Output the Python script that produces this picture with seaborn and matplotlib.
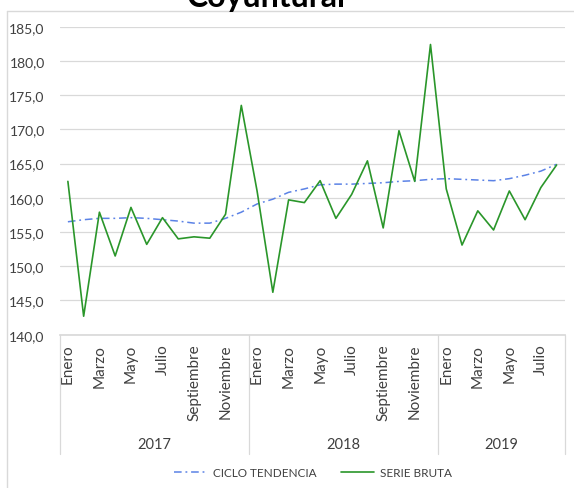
import matplotlib
matplotlib.use("Agg")
import matplotlib.pyplot as plt
import matplotlib.transforms as mtransforms
from matplotlib.ticker import FuncFormatter
import pandas as pd
import seaborn as sns

# --- data ---
months = ["Enero", "Febrero", "Marzo", "Abril", "Mayo", "Junio", "Julio", "Agosto",
          "Septiembre", "Octubre", "Noviembre", "Diciembre"]
years = ["2017", "2018", "2019"]
months_per_year = [12, 12, 8]

serie_bruta = [162.4, 142.7, 157.9, 151.5, 158.6, 153.2, 157.1, 154.0, 154.3, 154.1, 157.6, 173.5,
               161.0, 146.2, 159.7, 159.3, 162.5, 157.0, 160.5, 165.4, 155.6, 169.8, 162.4, 182.4,
               161.3, 153.1, 158.1, 155.3, 161.0, 156.8, 161.5, 164.8]
ciclo_tendencia = [156.5, 156.8, 157.0, 157.0, 157.1, 157.0, 156.8, 156.6, 156.3, 156.3, 157.0, 157.9,
                   159.1, 159.8, 160.8, 161.3, 161.9, 162.0, 162.0, 162.1, 162.2, 162.4, 162.5, 162.7,
                   162.8, 162.7, 162.6, 162.5, 162.8, 163.3, 163.9, 164.9]

labels = []
for y, n in zip(years, months_per_year):
    labels += [(y, m) for m in months[:n]]

df = pd.DataFrame({
    "pos": range(len(labels)),
    "year": [l[0] for l in labels],
    "month": [l[1] for l in labels],
    "ciclo": ciclo_tendencia,
    "bruta": serie_bruta,
})

sns.set_theme(style="white")
plt.rcParams["font.family"] = ["Lato", "DejaVu Sans"]

TEXT = "#404040"
GRID = "#D9D9D9"

W, H = 574, 489
fig = plt.figure(figsize=(W / 100, H / 100), dpi=100)
left, right, top, bottom = 60, 564.5, 27.7, 335.7
ax = fig.add_axes([left / W, 1 - bottom / H, (right - left) / W, (bottom - top) / H])

sns.lineplot(data=df, x="pos", y="ciclo", ax=ax, color="#5B82E6", linewidth=1.1,
             label="CICLO TENDENCIA")
ax.lines[-1].set_dashes((5, 2.5, 1.2, 2.5))
sns.lineplot(data=df, x="pos", y="bruta", ax=ax, color="#2A962A", linewidth=1.2,
             label="SERIE BRUTA")

ax.set_xlim(-0.5, len(labels) - 0.5)
ax.set_ylim(140, 185)
ax.set_yticks(range(140, 186, 5))
ax.yaxis.set_major_formatter(FuncFormatter(lambda v, p: f"{v:.1f}".replace(".", ",")))
ax.grid(axis="y", color=GRID, linewidth=0.9)
ax.set_axisbelow(True)
for side in ["left", "right", "top"]:
    ax.spines[side].set_visible(False)
ax.spines["bottom"].set_color(GRID)
ax.set_xlabel("")
ax.set_ylabel("")

ax.set_xticks(df["pos"][::2])
ax.set_xticklabels(df["month"][::2], rotation=90, va="top", ha="center")
ax.tick_params(axis="x", length=0, pad=6.5, labelsize=11, labelcolor=TEXT)
ax.tick_params(axis="y", length=0, pad=11, labelsize=10, labelcolor=TEXT)

# year groups under the month labels
trans = mtransforms.blended_transform_factory(ax.transData, ax.transAxes)
edges = [-0.5]
for n in months_per_year:
    edges.append(edges[-1] + n)
for e in edges:
    ax.plot([e, e], [0, -0.387], transform=trans, color=GRID, linewidth=0.9, clip_on=False)
for y, a, b in zip(years, edges[:-1], edges[1:]):
    ax.text((a + b) / 2, -0.355, y, transform=trans, ha="center", va="center",
            fontsize=10.5, color=TEXT)

ax.get_legend().remove()
handles, leg_labels = ax.get_legend_handles_labels()
fig.legend(handles, leg_labels, loc="center", bbox_to_anchor=(313 / W, 1 - 474 / H), ncol=2,
           frameon=False, fontsize=8.5, handlelength=2.8, columnspacing=2.0,
           handletextpad=0.5, labelcolor=TEXT)

# chart border (left and top visible)
fig.add_artist(plt.Line2D([7 / W, 7 / W], [0, 1 - 11.7 / H], transform=fig.transFigure,
                          color=GRID, linewidth=1))
fig.add_artist(plt.Line2D([7 / W, 1], [1 - 11.7 / H, 1 - 11.7 / H], transform=fig.transFigure,
                          color=GRID, linewidth=1))

# title: only its lower part shows in the reference
fig.text(266.5 / W, 1 - 7 / H, "Coyuntural", ha="center", va="baseline",
         fontsize=23, fontweight="bold", color="black")

fig.savefig("out.png", dpi=100)
